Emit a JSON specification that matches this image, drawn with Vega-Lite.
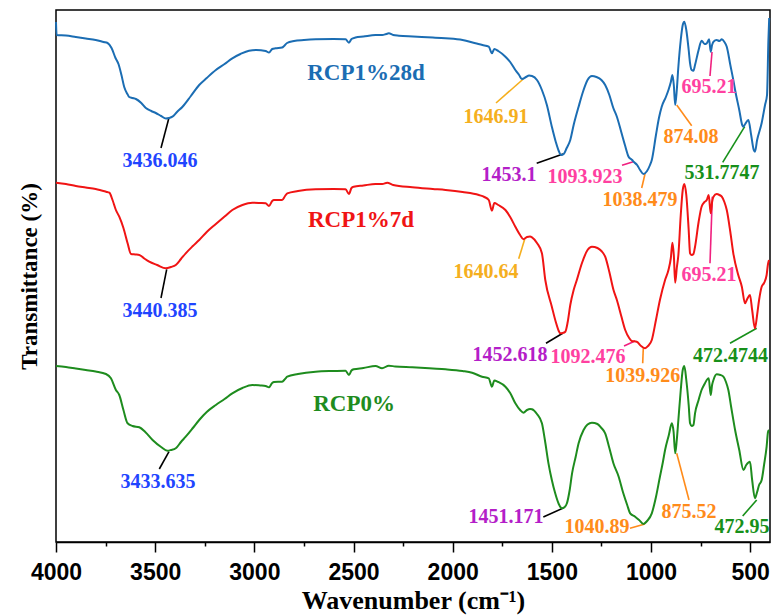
{
  "$schema": "https://vega.github.io/schema/vega-lite/v6.json",
  "width": 714,
  "height": 532,
  "autosize": {"type": "none"},
  "padding": {"left": 56, "top": 10, "right": 2, "bottom": 74},
  "background": "white",
  "config": {
    "view": {"stroke": "black", "strokeWidth": 1.5},
    "axis": {"grid": false}
  },
  "datasets": {
    "curves": [
      {"s":"RCP1%28d","wn":4000,"t":520},{"s":"RCP1%28d","wn":3997,"t":507},{"s":"RCP1%28d","wn":3950,"t":506.5},{"s":"RCP1%28d","wn":3900,"t":505},{"s":"RCP1%28d","wn":3850,"t":503.5},{"s":"RCP1%28d","wn":3800,"t":502},{"s":"RCP1%28d","wn":3760,"t":500},{"s":"RCP1%28d","wn":3740,"t":499},{"s":"RCP1%28d","wn":3720,"t":494},{"s":"RCP1%28d","wn":3700,"t":484},{"s":"RCP1%28d","wn":3685,"t":478},{"s":"RCP1%28d","wn":3670,"t":467},{"s":"RCP1%28d","wn":3656,"t":455},{"s":"RCP1%28d","wn":3640,"t":448},{"s":"RCP1%28d","wn":3631,"t":445},{"s":"RCP1%28d","wn":3614,"t":444},{"s":"RCP1%28d","wn":3597,"t":443},{"s":"RCP1%28d","wn":3570,"t":439},{"s":"RCP1%28d","wn":3547,"t":434},{"s":"RCP1%28d","wn":3520,"t":431},{"s":"RCP1%28d","wn":3497,"t":429},{"s":"RCP1%28d","wn":3470,"t":426},{"s":"RCP1%28d","wn":3446,"t":423.5},{"s":"RCP1%28d","wn":3430,"t":424},{"s":"RCP1%28d","wn":3413,"t":425.3},{"s":"RCP1%28d","wn":3390,"t":430},{"s":"RCP1%28d","wn":3362,"t":435.3},{"s":"RCP1%28d","wn":3320,"t":446},{"s":"RCP1%28d","wn":3278,"t":457},{"s":"RCP1%28d","wn":3240,"t":464},{"s":"RCP1%28d","wn":3194,"t":472},{"s":"RCP1%28d","wn":3150,"t":478},{"s":"RCP1%28d","wn":3111,"t":483.7},{"s":"RCP1%28d","wn":3070,"t":488},{"s":"RCP1%28d","wn":3027,"t":491.3},{"s":"RCP1%28d","wn":2990,"t":492},{"s":"RCP1%28d","wn":2943,"t":491},{"s":"RCP1%28d","wn":2926,"t":489.5},{"s":"RCP1%28d","wn":2910,"t":493},{"s":"RCP1%28d","wn":2893,"t":493.7},{"s":"RCP1%28d","wn":2860,"t":494.5},{"s":"RCP1%28d","wn":2850,"t":496},{"s":"RCP1%28d","wn":2835,"t":499},{"s":"RCP1%28d","wn":2800,"t":501},{"s":"RCP1%28d","wn":2750,"t":502},{"s":"RCP1%28d","wn":2691,"t":502.7},{"s":"RCP1%28d","wn":2600,"t":503},{"s":"RCP1%28d","wn":2540,"t":502.7},{"s":"RCP1%28d","wn":2523,"t":499.3},{"s":"RCP1%28d","wn":2510,"t":503},{"s":"RCP1%28d","wn":2490,"t":504.5},{"s":"RCP1%28d","wn":2450,"t":505.5},{"s":"RCP1%28d","wn":2389,"t":507},{"s":"RCP1%28d","wn":2355,"t":507},{"s":"RCP1%28d","wn":2335,"t":508},{"s":"RCP1%28d","wn":2322,"t":508.7},{"s":"RCP1%28d","wn":2300,"t":507},{"s":"RCP1%28d","wn":2271,"t":506.3},{"s":"RCP1%28d","wn":2200,"t":505.5},{"s":"RCP1%28d","wn":2100,"t":504.5},{"s":"RCP1%28d","wn":2036,"t":503.7},{"s":"RCP1%28d","wn":1950,"t":502},{"s":"RCP1%28d","wn":1885,"t":498.7},{"s":"RCP1%28d","wn":1850,"t":497},{"s":"RCP1%28d","wn":1818,"t":495.3},{"s":"RCP1%28d","wn":1802,"t":488.7},{"s":"RCP1%28d","wn":1790,"t":493},{"s":"RCP1%28d","wn":1770,"t":491},{"s":"RCP1%28d","wn":1734,"t":485.3},{"s":"RCP1%28d","wn":1710,"t":480},{"s":"RCP1%28d","wn":1684,"t":472},{"s":"RCP1%28d","wn":1665,"t":467},{"s":"RCP1%28d","wn":1651,"t":463},{"s":"RCP1%28d","wn":1630,"t":465},{"s":"RCP1%28d","wn":1615,"t":466.5},{"s":"RCP1%28d","wn":1600,"t":466},{"s":"RCP1%28d","wn":1575,"t":462},{"s":"RCP1%28d","wn":1550,"t":452},{"s":"RCP1%28d","wn":1525,"t":437},{"s":"RCP1%28d","wn":1500,"t":415.3},{"s":"RCP1%28d","wn":1480,"t":400},{"s":"RCP1%28d","wn":1465,"t":391},{"s":"RCP1%28d","wn":1453,"t":387},{"s":"RCP1%28d","wn":1440,"t":388},{"s":"RCP1%28d","wn":1425,"t":394},{"s":"RCP1%28d","wn":1407,"t":402},{"s":"RCP1%28d","wn":1390,"t":417},{"s":"RCP1%28d","wn":1365,"t":435.3},{"s":"RCP1%28d","wn":1340,"t":452},{"s":"RCP1%28d","wn":1320,"t":462},{"s":"RCP1%28d","wn":1298,"t":466},{"s":"RCP1%28d","wn":1275,"t":465},{"s":"RCP1%28d","wn":1250,"t":462},{"s":"RCP1%28d","wn":1231,"t":457},{"s":"RCP1%28d","wn":1210,"t":447},{"s":"RCP1%28d","wn":1190,"t":434},{"s":"RCP1%28d","wn":1172,"t":425.3},{"s":"RCP1%28d","wn":1150,"t":410},{"s":"RCP1%28d","wn":1130,"t":396},{"s":"RCP1%28d","wn":1113,"t":385.3},{"s":"RCP1%28d","wn":1095,"t":382},{"s":"RCP1%28d","wn":1088,"t":380.3},{"s":"RCP1%28d","wn":1070,"t":377},{"s":"RCP1%28d","wn":1055,"t":372},{"s":"RCP1%28d","wn":1038,"t":368},{"s":"RCP1%28d","wn":1020,"t":371},{"s":"RCP1%28d","wn":1005,"t":377},{"s":"RCP1%28d","wn":996,"t":382},{"s":"RCP1%28d","wn":975,"t":407},{"s":"RCP1%28d","wn":960,"t":424},{"s":"RCP1%28d","wn":946,"t":435.3},{"s":"RCP1%28d","wn":925,"t":445},{"s":"RCP1%28d","wn":912,"t":452},{"s":"RCP1%28d","wn":900,"t":460},{"s":"RCP1%28d","wn":892,"t":467},{"s":"RCP1%28d","wn":885,"t":457},{"s":"RCP1%28d","wn":878,"t":437},{"s":"RCP1%28d","wn":870,"t":452},{"s":"RCP1%28d","wn":862,"t":475.3},{"s":"RCP1%28d","wn":850,"t":502},{"s":"RCP1%28d","wn":840,"t":517},{"s":"RCP1%28d","wn":832,"t":520.3},{"s":"RCP1%28d","wn":822,"t":512},{"s":"RCP1%28d","wn":810,"t":492},{"s":"RCP1%28d","wn":803,"t":478.7},{"s":"RCP1%28d","wn":795,"t":472},{"s":"RCP1%28d","wn":786,"t":471.3},{"s":"RCP1%28d","wn":778,"t":477},{"s":"RCP1%28d","wn":760,"t":492},{"s":"RCP1%28d","wn":745,"t":501.3},{"s":"RCP1%28d","wn":730,"t":498},{"s":"RCP1%28d","wn":719,"t":498.7},{"s":"RCP1%28d","wn":707,"t":502.7},{"s":"RCP1%28d","wn":699,"t":490.3},{"s":"RCP1%28d","wn":692,"t":497},{"s":"RCP1%28d","wn":685,"t":500.3},{"s":"RCP1%28d","wn":669,"t":502},{"s":"RCP1%28d","wn":655,"t":501},{"s":"RCP1%28d","wn":643,"t":502.7},{"s":"RCP1%28d","wn":630,"t":500},{"s":"RCP1%28d","wn":618,"t":495.3},{"s":"RCP1%28d","wn":600,"t":477},{"s":"RCP1%28d","wn":585,"t":462},{"s":"RCP1%28d","wn":576,"t":452},{"s":"RCP1%28d","wn":555,"t":432},{"s":"RCP1%28d","wn":540,"t":417},{"s":"RCP1%28d","wn":534,"t":415.3},{"s":"RCP1%28d","wn":525,"t":418},{"s":"RCP1%28d","wn":509,"t":422},{"s":"RCP1%28d","wn":495,"t":407},{"s":"RCP1%28d","wn":482,"t":392},{"s":"RCP1%28d","wn":476,"t":390.3},{"s":"RCP1%28d","wn":465,"t":402},{"s":"RCP1%28d","wn":442,"t":419},{"s":"RCP1%28d","wn":425,"t":437},{"s":"RCP1%28d","wn":415,"t":447},{"s":"RCP1%28d","wn":408,"t":502},{"s":"RCP1%28d","wn":404,"t":524},
      {"s":"RCP1%7d","wn":4000,"t":359.3},{"s":"RCP1%7d","wn":3950,"t":358},{"s":"RCP1%7d","wn":3900,"t":356},{"s":"RCP1%7d","wn":3850,"t":354.5},{"s":"RCP1%7d","wn":3800,"t":353},{"s":"RCP1%7d","wn":3748,"t":350.3},{"s":"RCP1%7d","wn":3731,"t":349.3},{"s":"RCP1%7d","wn":3715,"t":342},{"s":"RCP1%7d","wn":3698,"t":332},{"s":"RCP1%7d","wn":3681,"t":325.3},{"s":"RCP1%7d","wn":3660,"t":314},{"s":"RCP1%7d","wn":3639,"t":298.7},{"s":"RCP1%7d","wn":3622,"t":288},{"s":"RCP1%7d","wn":3600,"t":287.5},{"s":"RCP1%7d","wn":3580,"t":287},{"s":"RCP1%7d","wn":3555,"t":283.5},{"s":"RCP1%7d","wn":3530,"t":280.3},{"s":"RCP1%7d","wn":3490,"t":277},{"s":"RCP1%7d","wn":3446,"t":273.7},{"s":"RCP1%7d","wn":3420,"t":275},{"s":"RCP1%7d","wn":3396,"t":277},{"s":"RCP1%7d","wn":3370,"t":283},{"s":"RCP1%7d","wn":3346,"t":288.7},{"s":"RCP1%7d","wn":3310,"t":296},{"s":"RCP1%7d","wn":3278,"t":302},{"s":"RCP1%7d","wn":3240,"t":310},{"s":"RCP1%7d","wn":3194,"t":318},{"s":"RCP1%7d","wn":3150,"t":325.5},{"s":"RCP1%7d","wn":3111,"t":332},{"s":"RCP1%7d","wn":3060,"t":337},{"s":"RCP1%7d","wn":3010,"t":339.3},{"s":"RCP1%7d","wn":2970,"t":339},{"s":"RCP1%7d","wn":2943,"t":338.7},{"s":"RCP1%7d","wn":2926,"t":336},{"s":"RCP1%7d","wn":2910,"t":341},{"s":"RCP1%7d","wn":2901,"t":342},{"s":"RCP1%7d","wn":2860,"t":342},{"s":"RCP1%7d","wn":2845,"t":346},{"s":"RCP1%7d","wn":2834,"t":348.7},{"s":"RCP1%7d","wn":2780,"t":351},{"s":"RCP1%7d","wn":2691,"t":352.7},{"s":"RCP1%7d","wn":2600,"t":353},{"s":"RCP1%7d","wn":2540,"t":352.7},{"s":"RCP1%7d","wn":2523,"t":348},{"s":"RCP1%7d","wn":2510,"t":354},{"s":"RCP1%7d","wn":2499,"t":355.3},{"s":"RCP1%7d","wn":2450,"t":356.5},{"s":"RCP1%7d","wn":2389,"t":358},{"s":"RCP1%7d","wn":2355,"t":358},{"s":"RCP1%7d","wn":2330,"t":359.3},{"s":"RCP1%7d","wn":2300,"t":357},{"s":"RCP1%7d","wn":2204,"t":354.7},{"s":"RCP1%7d","wn":2100,"t":353},{"s":"RCP1%7d","wn":2036,"t":352},{"s":"RCP1%7d","wn":1950,"t":350},{"s":"RCP1%7d","wn":1868,"t":347},{"s":"RCP1%7d","wn":1840,"t":345},{"s":"RCP1%7d","wn":1818,"t":342},{"s":"RCP1%7d","wn":1802,"t":331.3},{"s":"RCP1%7d","wn":1790,"t":339},{"s":"RCP1%7d","wn":1770,"t":337},{"s":"RCP1%7d","wn":1734,"t":332},{"s":"RCP1%7d","wn":1710,"t":325},{"s":"RCP1%7d","wn":1684,"t":315.3},{"s":"RCP1%7d","wn":1660,"t":307},{"s":"RCP1%7d","wn":1643,"t":302.7},{"s":"RCP1%7d","wn":1625,"t":305},{"s":"RCP1%7d","wn":1610,"t":305.5},{"s":"RCP1%7d","wn":1600,"t":304.7},{"s":"RCP1%7d","wn":1575,"t":299},{"s":"RCP1%7d","wn":1550,"t":288.7},{"s":"RCP1%7d","wn":1533,"t":262},{"s":"RCP1%7d","wn":1500,"t":235.3},{"s":"RCP1%7d","wn":1480,"t":220},{"s":"RCP1%7d","wn":1465,"t":211},{"s":"RCP1%7d","wn":1458,"t":208.7},{"s":"RCP1%7d","wn":1445,"t":209},{"s":"RCP1%7d","wn":1432,"t":210.3},{"s":"RCP1%7d","wn":1420,"t":220},{"s":"RCP1%7d","wn":1407,"t":237},{"s":"RCP1%7d","wn":1390,"t":252},{"s":"RCP1%7d","wn":1374,"t":262},{"s":"RCP1%7d","wn":1348,"t":279},{"s":"RCP1%7d","wn":1320,"t":292},{"s":"RCP1%7d","wn":1298,"t":295.3},{"s":"RCP1%7d","wn":1270,"t":294},{"s":"RCP1%7d","wn":1250,"t":291},{"s":"RCP1%7d","wn":1231,"t":285.3},{"s":"RCP1%7d","wn":1210,"t":270},{"s":"RCP1%7d","wn":1189,"t":252},{"s":"RCP1%7d","wn":1172,"t":242},{"s":"RCP1%7d","wn":1150,"t":226},{"s":"RCP1%7d","wn":1130,"t":212},{"s":"RCP1%7d","wn":1110,"t":204},{"s":"RCP1%7d","wn":1097,"t":201},{"s":"RCP1%7d","wn":1072,"t":200.3},{"s":"RCP1%7d","wn":1050,"t":196},{"s":"RCP1%7d","wn":1030,"t":193.7},{"s":"RCP1%7d","wn":1015,"t":196},{"s":"RCP1%7d","wn":996,"t":202},{"s":"RCP1%7d","wn":975,"t":222},{"s":"RCP1%7d","wn":955,"t":242},{"s":"RCP1%7d","wn":929,"t":262},{"s":"RCP1%7d","wn":912,"t":272},{"s":"RCP1%7d","wn":900,"t":284},{"s":"RCP1%7d","wn":892,"t":299.3},{"s":"RCP1%7d","wn":885,"t":287},{"s":"RCP1%7d","wn":878,"t":259.3},{"s":"RCP1%7d","wn":870,"t":274},{"s":"RCP1%7d","wn":862,"t":287},{"s":"RCP1%7d","wn":850,"t":327},{"s":"RCP1%7d","wn":840,"t":352},{"s":"RCP1%7d","wn":832,"t":358},{"s":"RCP1%7d","wn":822,"t":347},{"s":"RCP1%7d","wn":810,"t":312},{"s":"RCP1%7d","wn":803,"t":288.7},{"s":"RCP1%7d","wn":795,"t":287},{"s":"RCP1%7d","wn":786,"t":288},{"s":"RCP1%7d","wn":778,"t":295.3},{"s":"RCP1%7d","wn":760,"t":320},{"s":"RCP1%7d","wn":745,"t":335.3},{"s":"RCP1%7d","wn":730,"t":340},{"s":"RCP1%7d","wn":719,"t":342},{"s":"RCP1%7d","wn":709,"t":347},{"s":"RCP1%7d","wn":699,"t":328.7},{"s":"RCP1%7d","wn":692,"t":340},{"s":"RCP1%7d","wn":685,"t":345.3},{"s":"RCP1%7d","wn":669,"t":348},{"s":"RCP1%7d","wn":655,"t":347},{"s":"RCP1%7d","wn":643,"t":345.3},{"s":"RCP1%7d","wn":630,"t":340},{"s":"RCP1%7d","wn":618,"t":332},{"s":"RCP1%7d","wn":600,"t":310},{"s":"RCP1%7d","wn":585,"t":288.7},{"s":"RCP1%7d","wn":560,"t":267},{"s":"RCP1%7d","wn":542,"t":255.3},{"s":"RCP1%7d","wn":526,"t":238.7},{"s":"RCP1%7d","wn":515,"t":243},{"s":"RCP1%7d","wn":501,"t":247},{"s":"RCP1%7d","wn":490,"t":232},{"s":"RCP1%7d","wn":476,"t":213.7},{"s":"RCP1%7d","wn":465,"t":227},{"s":"RCP1%7d","wn":455,"t":242},{"s":"RCP1%7d","wn":442,"t":255.3},{"s":"RCP1%7d","wn":430,"t":259},{"s":"RCP1%7d","wn":417,"t":267},{"s":"RCP1%7d","wn":410,"t":278},{"s":"RCP1%7d","wn":405,"t":282},
      {"s":"RCP0%","wn":4000,"t":176},{"s":"RCP0%","wn":3950,"t":175},{"s":"RCP0%","wn":3900,"t":173.5},{"s":"RCP0%","wn":3850,"t":172},{"s":"RCP0%","wn":3800,"t":170.5},{"s":"RCP0%","wn":3748,"t":168},{"s":"RCP0%","wn":3723,"t":163.7},{"s":"RCP0%","wn":3698,"t":152},{"s":"RCP0%","wn":3681,"t":147},{"s":"RCP0%","wn":3660,"t":132},{"s":"RCP0%","wn":3639,"t":118.7},{"s":"RCP0%","wn":3614,"t":116},{"s":"RCP0%","wn":3580,"t":114.7},{"s":"RCP0%","wn":3550,"t":110},{"s":"RCP0%","wn":3513,"t":102},{"s":"RCP0%","wn":3470,"t":95},{"s":"RCP0%","wn":3438,"t":91.3},{"s":"RCP0%","wn":3420,"t":92},{"s":"RCP0%","wn":3396,"t":93.7},{"s":"RCP0%","wn":3370,"t":100},{"s":"RCP0%","wn":3346,"t":105.3},{"s":"RCP0%","wn":3310,"t":114},{"s":"RCP0%","wn":3278,"t":122},{"s":"RCP0%","wn":3240,"t":130},{"s":"RCP0%","wn":3194,"t":137},{"s":"RCP0%","wn":3150,"t":143},{"s":"RCP0%","wn":3111,"t":148.7},{"s":"RCP0%","wn":3060,"t":154},{"s":"RCP0%","wn":3010,"t":157},{"s":"RCP0%","wn":2970,"t":156.5},{"s":"RCP0%","wn":2943,"t":156},{"s":"RCP0%","wn":2926,"t":154.7},{"s":"RCP0%","wn":2910,"t":159},{"s":"RCP0%","wn":2901,"t":160},{"s":"RCP0%","wn":2860,"t":160.3},{"s":"RCP0%","wn":2845,"t":163},{"s":"RCP0%","wn":2834,"t":165.3},{"s":"RCP0%","wn":2780,"t":168},{"s":"RCP0%","wn":2691,"t":170.3},{"s":"RCP0%","wn":2600,"t":171},{"s":"RCP0%","wn":2540,"t":171.3},{"s":"RCP0%","wn":2523,"t":167},{"s":"RCP0%","wn":2510,"t":171.5},{"s":"RCP0%","wn":2499,"t":172.7},{"s":"RCP0%","wn":2450,"t":174},{"s":"RCP0%","wn":2389,"t":176},{"s":"RCP0%","wn":2356,"t":173.7},{"s":"RCP0%","wn":2322,"t":176.3},{"s":"RCP0%","wn":2290,"t":175.5},{"s":"RCP0%","wn":2204,"t":174.7},{"s":"RCP0%","wn":2100,"t":173.5},{"s":"RCP0%","wn":2036,"t":172.7},{"s":"RCP0%","wn":1950,"t":171},{"s":"RCP0%","wn":1902,"t":169.3},{"s":"RCP0%","wn":1852,"t":165.3},{"s":"RCP0%","wn":1818,"t":163.7},{"s":"RCP0%","wn":1802,"t":155.3},{"s":"RCP0%","wn":1790,"t":161.5},{"s":"RCP0%","wn":1770,"t":160},{"s":"RCP0%","wn":1734,"t":155.3},{"s":"RCP0%","wn":1710,"t":149},{"s":"RCP0%","wn":1684,"t":138.7},{"s":"RCP0%","wn":1660,"t":132},{"s":"RCP0%","wn":1643,"t":129.3},{"s":"RCP0%","wn":1625,"t":132},{"s":"RCP0%","wn":1610,"t":133},{"s":"RCP0%","wn":1600,"t":132.7},{"s":"RCP0%","wn":1575,"t":128},{"s":"RCP0%","wn":1550,"t":118.7},{"s":"RCP0%","wn":1535,"t":102},{"s":"RCP0%","wn":1517,"t":78.7},{"s":"RCP0%","wn":1500,"t":62},{"s":"RCP0%","wn":1483,"t":48.7},{"s":"RCP0%","wn":1465,"t":38},{"s":"RCP0%","wn":1449,"t":33.7},{"s":"RCP0%","wn":1435,"t":35},{"s":"RCP0%","wn":1424,"t":38.7},{"s":"RCP0%","wn":1410,"t":52},{"s":"RCP0%","wn":1398,"t":68.7},{"s":"RCP0%","wn":1380,"t":85},{"s":"RCP0%","wn":1365,"t":98.7},{"s":"RCP0%","wn":1340,"t":112},{"s":"RCP0%","wn":1320,"t":117.5},{"s":"RCP0%","wn":1298,"t":119.3},{"s":"RCP0%","wn":1270,"t":118},{"s":"RCP0%","wn":1250,"t":114},{"s":"RCP0%","wn":1231,"t":108.7},{"s":"RCP0%","wn":1210,"t":94},{"s":"RCP0%","wn":1190,"t":79},{"s":"RCP0%","wn":1163,"t":65.3},{"s":"RCP0%","wn":1140,"t":49},{"s":"RCP0%","wn":1120,"t":37},{"s":"RCP0%","wn":1105,"t":28.7},{"s":"RCP0%","wn":1080,"t":25.3},{"s":"RCP0%","wn":1060,"t":22},{"s":"RCP0%","wn":1038,"t":18},{"s":"RCP0%","wn":1020,"t":21},{"s":"RCP0%","wn":996,"t":28.7},{"s":"RCP0%","wn":975,"t":45},{"s":"RCP0%","wn":955,"t":65.3},{"s":"RCP0%","wn":940,"t":80},{"s":"RCP0%","wn":929,"t":92},{"s":"RCP0%","wn":910,"t":107},{"s":"RCP0%","wn":895,"t":118.7},{"s":"RCP0%","wn":886,"t":110},{"s":"RCP0%","wn":878,"t":88.7},{"s":"RCP0%","wn":870,"t":102},{"s":"RCP0%","wn":862,"t":122},{"s":"RCP0%","wn":850,"t":152},{"s":"RCP0%","wn":840,"t":172},{"s":"RCP0%","wn":832,"t":176},{"s":"RCP0%","wn":822,"t":162},{"s":"RCP0%","wn":810,"t":137},{"s":"RCP0%","wn":803,"t":118.7},{"s":"RCP0%","wn":795,"t":116},{"s":"RCP0%","wn":786,"t":117},{"s":"RCP0%","wn":778,"t":128.7},{"s":"RCP0%","wn":760,"t":142},{"s":"RCP0%","wn":745,"t":152},{"s":"RCP0%","wn":730,"t":158},{"s":"RCP0%","wn":719,"t":162},{"s":"RCP0%","wn":709,"t":163.7},{"s":"RCP0%","wn":699,"t":147},{"s":"RCP0%","wn":692,"t":157},{"s":"RCP0%","wn":685,"t":162},{"s":"RCP0%","wn":669,"t":167.7},{"s":"RCP0%","wn":650,"t":167},{"s":"RCP0%","wn":635,"t":165.3},{"s":"RCP0%","wn":622,"t":160},{"s":"RCP0%","wn":610,"t":152},{"s":"RCP0%","wn":595,"t":134},{"s":"RCP0%","wn":576,"t":112},{"s":"RCP0%","wn":555,"t":92},{"s":"RCP0%","wn":534,"t":72},{"s":"RCP0%","wn":520,"t":77},{"s":"RCP0%","wn":501,"t":80.3},{"s":"RCP0%","wn":490,"t":62},{"s":"RCP0%","wn":476,"t":43.7},{"s":"RCP0%","wn":465,"t":50},{"s":"RCP0%","wn":455,"t":57},{"s":"RCP0%","wn":442,"t":62},{"s":"RCP0%","wn":430,"t":77},{"s":"RCP0%","wn":417,"t":95.3},{"s":"RCP0%","wn":410,"t":110},{"s":"RCP0%","wn":405,"t":112}
    ],
    "series": [
      {"s":"RCP1%28d","wn":2437,"t":469},
      {"s":"RCP1%7d","wn":2462,"t":322},
      {"s":"RCP0%","wn":2497,"t":138}
    ],
    "ann": [
      {"label":"3436.046","band":"O-H","wn":3475.6,"t":381},
      {"label":"3440.385","band":"O-H","wn":3475.6,"t":231},
      {"label":"3433.635","band":"O-H","wn":3485.7,"t":60},
      {"label":"1646.91","band":"H-O-H","wn":1781.5,"t":425},
      {"label":"1640.64","band":"H-O-H","wn":1831.9,"t":270.3},
      {"label":"1453.1","band":"C-O","wn":1716,"t":367},
      {"label":"1452.618","band":"C-O","wn":1710.9,"t":187},
      {"label":"1451.171","band":"C-O","wn":1731.1,"t":25.3},
      {"label":"1093.923","band":"Si-O-Si","wn":1332.8,"t":365},
      {"label":"1092.476","band":"Si-O-Si","wn":1317.7,"t":184.7},
      {"label":"695.21","band":"Si-O-Si","wn":707.6,"t":454.7},
      {"label":"695.21","band":"Si-O-Si","wn":707.6,"t":267},
      {"label":"1038.479","band":"Si-O","wn":1055.5,"t":342},
      {"label":"1039.926","band":"Si-O","wn":1041.9,"t":166},
      {"label":"1040.89","band":"Si-O","wn":1272.3,"t":15.3},
      {"label":"874.08","band":"Si-O","wn":798.3,"t":405.3},
      {"label":"875.52","band":"Si-O","wn":808.4,"t":30.3},
      {"label":"531.7747","band":"M-O","wn":642,"t":368.7},
      {"label":"472.4744","band":"M-O","wn":599.2,"t":186},
      {"label":"472.95","band":"M-O","wn":541.2,"t":14.7}
    ],
    "leaders": [
      {"band":"O-H","wn":3431.8,"t":423.3,"wn2":3470.6,"t2":394},
      {"band":"O-H","wn":3441.9,"t":272.7,"wn2":3470.6,"t2":244},
      {"band":"O-H","wn":3430.3,"t":90.3,"wn2":3479.2,"t2":73},
      {"band":"H-O-H","wn":1643.9,"t":463,"wn2":1781.5,"t2":439},
      {"band":"H-O-H","wn":1636.8,"t":302.7,"wn2":1667,"t2":283.3},
      {"band":"C-O","wn":1443.7,"t":388,"wn2":1576.3,"t2":378.7},
      {"band":"C-O","wn":1445.2,"t":208.7,"wn2":1529.4,"t2":198.7},
      {"band":"C-O","wn":1445.2,"t":33.7,"wn2":1543,"t2":25},
      {"band":"Si-O-Si","wn":1089.2,"t":380.3,"wn2":1146.2,"t2":376.7},
      {"band":"Si-O-Si","wn":1080.7,"t":201,"wn2":1136.1,"t2":196},
      {"band":"Si-O-Si","wn":692.4,"t":490,"wn2":702.5,"t2":466},
      {"band":"Si-O-Si","wn":690.9,"t":345.3,"wn2":702.5,"t2":278.7},
      {"band":"Si-O","wn":1030.3,"t":368,"wn2":1046.9,"t2":354},
      {"band":"Si-O","wn":1038.9,"t":193.7,"wn2":1041.9,"t2":178.7},
      {"band":"Si-O","wn":1030.3,"t":18,"wn2":1105.9,"t2":13.7},
      {"band":"Si-O","wn":870.4,"t":437,"wn2":794.8,"t2":416.3},
      {"band":"Si-O","wn":870.4,"t":88.7,"wn2":808.4,"t2":42},
      {"band":"M-O","wn":527.7,"t":415.3,"wn2":638.6,"t2":379.7},
      {"band":"M-O","wn":467.1,"t":213.7,"wn2":601.7,"t2":198.7},
      {"band":"M-O","wn":467.1,"t":42,"wn2":537.7,"t2":26}
    ]
  },
  "resolve": {"scale": {"color": "independent"}, "axis": {"x": "independent", "y": "independent"}},
  "layer": [
    {
      "data": {"name": "leaders"},
      "mark": {"type": "rule", "strokeWidth": 1.6},
      "encoding": {
        "x": {"field": "wn", "type": "quantitative", "scale": {"domain": [4000, 400], "nice": false, "zero": false},
          "axis": {"orient": "bottom", "values": [3750, 3250, 2750, 2250, 1750, 1250, 750], "labels": false, "domain": false, "tickSize": 4, "tickWidth": 1.5, "tickColor": "black", "title": null, "grid": false}},
        "x2": {"field": "wn2"},
        "y": {"field": "t", "type": "quantitative", "scale": {"domain": [0, 532], "nice": false, "zero": false}, "axis": null},
        "y2": {"field": "t2"},
        "color": {"field": "band", "type": "nominal", "legend": null,
          "scale": {"domain": ["O-H", "H-O-H", "C-O", "Si-O-Si", "Si-O", "M-O"], "range": ["#000000", "#F5AF1E", "#000000", "#F0207F", "#FF8B1A", "#17901A"]}}
      }
    },
    {
      "data": {"name": "curves"},
      "mark": {"type": "line", "strokeWidth": 2, "interpolate": "monotone"},
      "encoding": {
        "x": {"field": "wn", "type": "quantitative", "scale": {"domain": [4000, 400], "nice": false, "zero": false},
          "axis": {"orient": "bottom", "values": [4000, 3500, 3000, 2500, 2000, 1500, 1000, 500], "format": "d", "tickSize": 10, "tickWidth": 1.5, "tickColor": "black", "domainColor": "black", "domainWidth": 1.5, "labelFlush": false, "labelOverlap": false, "labelFont": "Liberation Sans", "labelFontWeight": "bold", "labelFontSize": 23, "labelColor": "black", "labelPadding": 9, "title": "Wavenumber (cm⁻¹)", "titleFont": "Liberation Serif", "titleFontWeight": "bold", "titleFontSize": 26, "titleColor": "black", "titlePadding": 3}},
        "y": {"field": "t", "type": "quantitative", "scale": {"domain": [0, 532], "nice": false, "zero": false},
          "axis": {"orient": "left", "labels": false, "ticks": false, "domain": false, "title": "Transmittance (%)", "titleFont": "Liberation Serif", "titleFontWeight": "bold", "titleFontSize": 23, "titleColor": "black", "titlePadding": 15}},
        "color": {"field": "s", "type": "nominal", "legend": null,
          "scale": {"domain": ["RCP1%28d", "RCP1%7d", "RCP0%"], "range": ["#1B6DB3", "#F01414", "#1E8C1E"]}},
        "order": {"field": "wn", "type": "quantitative"}
      }
    },
    {
      "data": {"name": "ann"},
      "mark": {"type": "text", "font": "Liberation Serif", "fontWeight": "bold", "fontSize": 20, "align": "center", "baseline": "middle"},
      "encoding": {
        "x": {"field": "wn", "type": "quantitative", "axis": null},
        "y": {"field": "t", "type": "quantitative", "axis": null},
        "text": {"field": "label"},
        "color": {"field": "band", "type": "nominal", "legend": null,
          "scale": {"domain": ["O-H", "H-O-H", "C-O", "Si-O-Si", "Si-O", "M-O"], "range": ["#1F45FF", "#F5AF1E", "#B41EC8", "#FF40A0", "#FF8B1A", "#17901A"]}}
      }
    },
    {
      "data": {"name": "series"},
      "mark": {"type": "text", "font": "Liberation Serif", "fontWeight": "bold", "fontSize": 23, "align": "center", "baseline": "middle"},
      "encoding": {
        "x": {"field": "wn", "type": "quantitative", "axis": null},
        "y": {"field": "t", "type": "quantitative", "axis": null},
        "text": {"field": "s"},
        "color": {"field": "s", "type": "nominal", "legend": null,
          "scale": {"domain": ["RCP1%28d", "RCP1%7d", "RCP0%"], "range": ["#1B6DB3", "#F01414", "#1E8C1E"]}}
      }
    }
  ]
}
